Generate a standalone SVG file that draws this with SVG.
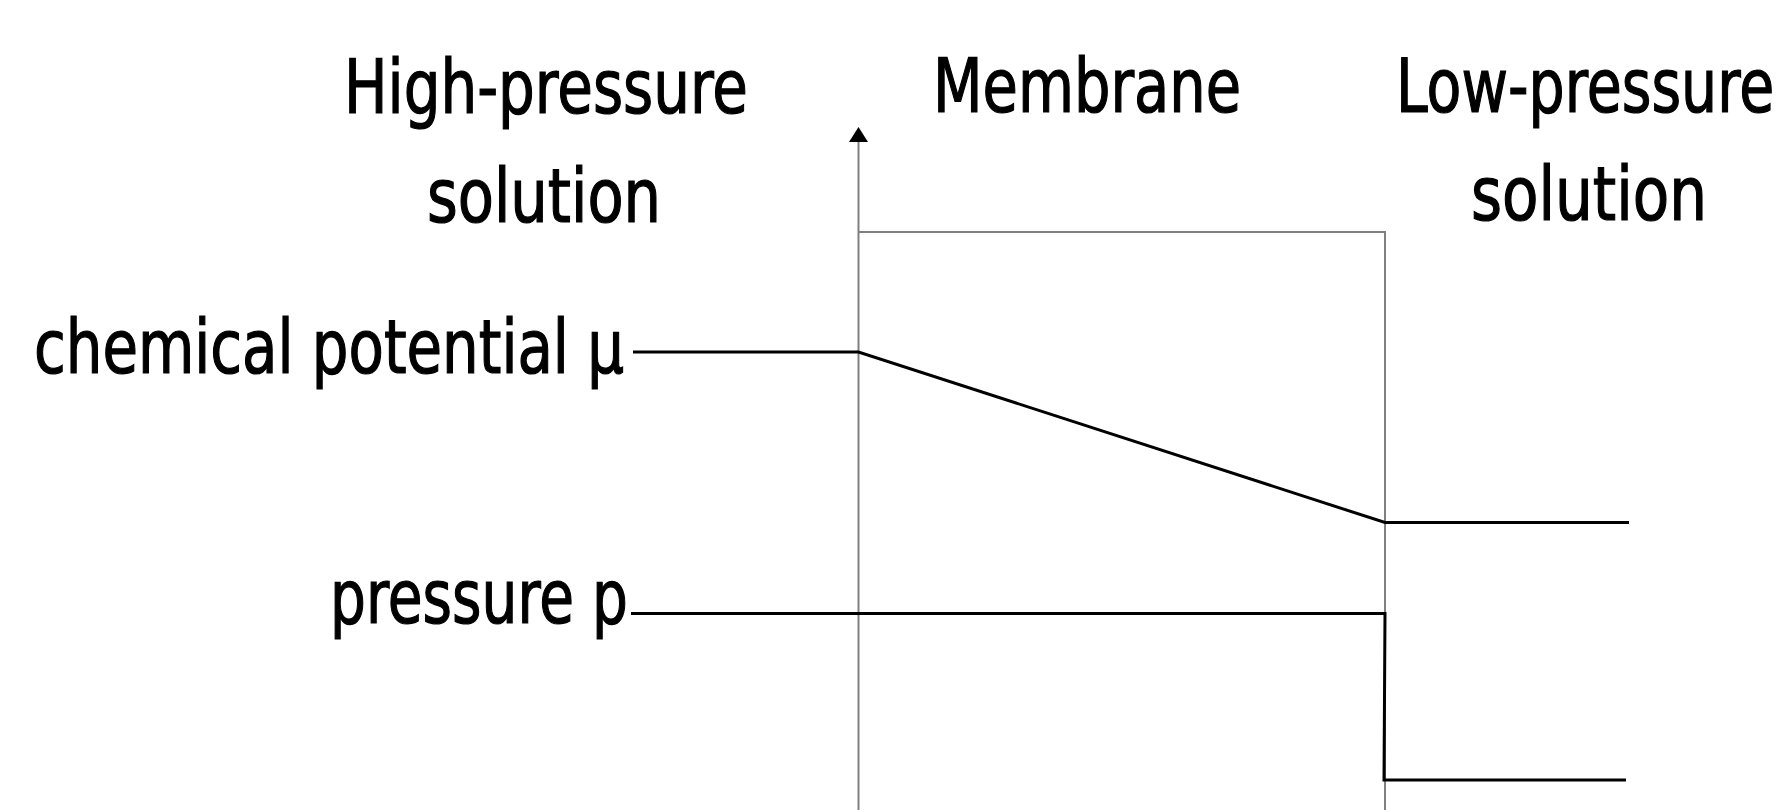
<svg xmlns="http://www.w3.org/2000/svg" width="1782" height="810" viewBox="0 0 1782 810">
  <style>
    .lbl { font-family: "DejaVu Sans Condensed", "DejaVu Sans", "Liberation Sans Narrow", sans-serif; font-stretch: condensed; font-size: 74px; fill: #000; stroke: #000; stroke-width: 1.2; }
    .frame { fill: none; stroke: #808080; stroke-width: 2; }
    .curve { fill: none; stroke: #000; stroke-width: 3; stroke-linejoin: miter; }
  </style>
  <rect width="1782" height="810" fill="#fff"/>

  <!-- region headings -->
  <g id="high-pressure-solution">
    <text class="lbl" x="344" y="113" textLength="404" lengthAdjust="spacingAndGlyphs">High-pressure</text>
    <text class="lbl" x="427" y="222" textLength="234" lengthAdjust="spacingAndGlyphs">solution</text>
  </g>
  <g id="membrane-label">
    <text class="lbl" x="933" y="112" textLength="308" lengthAdjust="spacingAndGlyphs">Membrane</text>
  </g>
  <g id="low-pressure-solution">
    <text class="lbl" transform="translate(1396 112) scale(0.85 1)" x="0" y="0" textLength="445" lengthAdjust="spacingAndGlyphs">Low-pressure</text>
    <text class="lbl" x="1471" y="220" textLength="236" lengthAdjust="spacingAndGlyphs">solution</text>
  </g>

  <!-- quantity labels -->
  <g id="mu-label">
    <text class="lbl" x="34" y="373" textLength="590" lengthAdjust="spacingAndGlyphs">chemical potential μ</text>
  </g>
  <g id="p-label">
    <text class="lbl" x="330" y="623" textLength="298" lengthAdjust="spacingAndGlyphs">pressure p</text>
  </g>

  <!-- vertical axis and membrane outline -->
  <g id="axis">
    <path class="frame" d="M858.5 810 V142"/>
    <path d="M858.5 127 L849 142 L868 142 Z" fill="#000"/>
  </g>
  <g id="membrane">
    <path class="frame" d="M858.5 232 H1385 V810"/>
  </g>

  <!-- profiles across the membrane -->
  <g id="connectors">
    <polyline class="curve" points="633,352 858.5,352 1385,522.5 1629,522.5"/>
    <polyline class="curve" points="631,613.5 1385,613.5 1384,780 1626,780"/>
  </g>
</svg>
